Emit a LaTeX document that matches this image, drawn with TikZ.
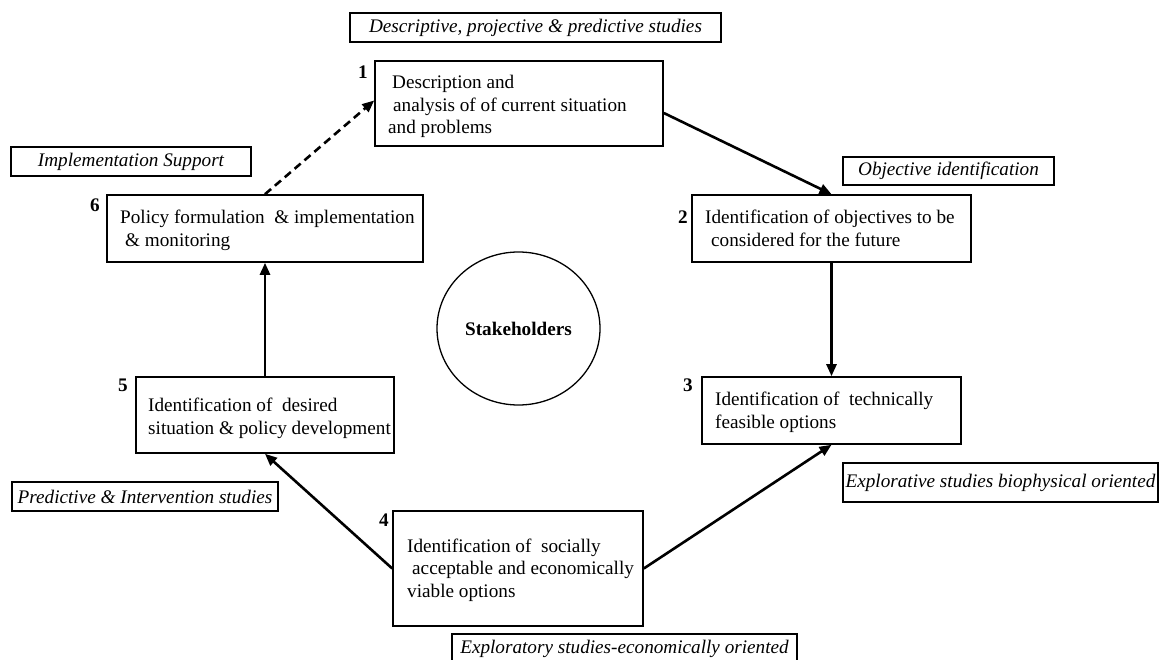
\documentclass[tikz,border=0pt]{standalone}
\usepackage{fontspec}
\setmainfont{Liberation Serif}
\usetikzlibrary{arrows.meta,shapes.geometric}
\begin{document}
\begin{tikzpicture}[x=1pt,y=-1pt,
  every node/.style={font=\fontsize{19.2}{23}\selectfont},
  box/.style={draw, line width=1.6pt, rectangle, inner sep=0pt},
  lbl/.style={draw, line width=1.3pt, rectangle, inner sep=0pt, font=\fontsize{19.2}{23}\selectfont\itshape},
  txt/.style={anchor=base west, inner sep=0pt},
  num/.style={inner sep=0pt, font=\fontsize{19.2}{23}\selectfont\bfseries},
  arr/.style={-{Triangle[length=12pt,width=10pt]}, line width=2.6pt},
  darr/.style={arr, dash pattern=on 8pt off 5pt}]
\fill[white] (0,0) rectangle (1164,660);
\useasboundingbox (0,0) rectangle (1164,660);

% main boxes
\node[box, minimum width=288pt, minimum height=85pt] (b1) at (519,103.5) {};
\node[box, minimum width=279pt, minimum height=67pt] (b2) at (831.5,228.5) {};
\node[box, minimum width=259pt, minimum height=67pt] (b3) at (831.5,410.5) {};
\node[box, minimum width=250pt, minimum height=115pt] (b4) at (518,568.5) {};
\node[box, minimum width=258pt, minimum height=76pt] (b5) at (265,415) {};
\node[box, minimum width=316pt, minimum height=67pt] (b6) at (265,228.5) {};

% box texts
\node[txt] (t1a) at (392,88.5) {Description and};
\node[txt] (t1b) at (393,111.5) {analysis of of current situation};
\node[txt] (t1c) at (388,134) {and problems};
\node[txt] (t2a) at (705,223.5) {Identification of objectives to be};
\node[txt] (t2b) at (711,246.5) {considered for the future};
\node[txt] (t3a) at (715,405.5) {Identification of~ technically};
\node[txt] (t3b) at (715,428.5) {feasible options};
\node[txt] (t4a) at (407,552.5) {Identification of~ socially};
\node[txt] (t4b) at (412,574.5) {acceptable and economically};
\node[txt] (t4c) at (407,597.5) {viable options};
\node[txt] (t5a) at (148,411.5) {Identification of~ desired};
\node[txt] (t5b) at (148,434.5) {situation \& policy development};
\node[txt] (t6a) at (120,223.5) {Policy formulation~ \& implementation};
\node[txt] (t6b) at (125,246.5) {\& monitoring};

% numbers
\node[num] (n1) at (363,72) {1};
\node[num] (n2) at (683,217) {2};
\node[num] (n3) at (688,385) {3};
\node[num] (n4) at (384,520) {4};
\node[num] (n5) at (123,385) {5};
\node[num] (n6) at (95,205) {6};

% stakeholders
\node[draw, ellipse, line width=1.3pt, minimum width=163pt, minimum height=153pt, inner sep=0pt, font=\fontsize{19.2}{23}\selectfont\bfseries] (sh) at (518.5,328.5) {Stakeholders};

% italic labels
\node[lbl, minimum width=371pt, minimum height=29pt] (ldesc) at (535.5,27.5) {Descriptive, projective \& predictive studies};
\node[lbl, minimum width=240pt, minimum height=29pt] (limpl) at (131,161.5) {Implementation Support};
\node[lbl, minimum width=211pt, minimum height=28pt] (lobj) at (948.5,171) {Objective identification};
\node[lbl, minimum width=266pt, minimum height=29pt] (lpred) at (145,496.5) {Predictive \& Intervention studies};
\node[lbl, minimum width=315pt, minimum height=39pt] (lbio) at (1000.5,482.5) {Explorative studies biophysical oriented};
\node[lbl, minimum width=345pt, minimum height=29pt] (lecon) at (624.5,648.5) {Exploratory studies-economically oriented};

% connectors
\draw[arr] ([yshift=-9.5pt]b1.east) -- (b2.north);
\draw[arr] (b2.south) -- (b3.north);
\draw[arr] (b4.east) -- (b3.south);
\draw[arr] (b4.west) -- (b5.south);
\draw[arr] (b5.north) -- (b6.south);
\draw[darr] (b6.north) -- ([yshift=3pt]b1.west);
\end{tikzpicture}
\end{document}
